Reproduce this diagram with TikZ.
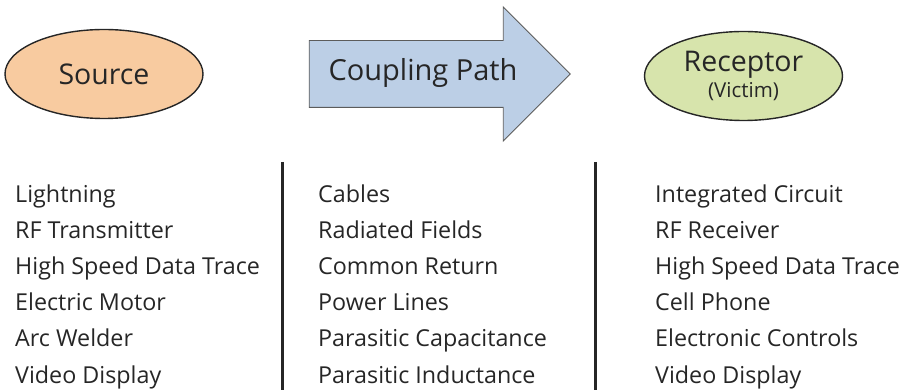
\documentclass[tikz,border=0pt]{standalone}
\usepackage{fontspec}
\setmainfont{Open Sans}
\usetikzlibrary{shapes.geometric,shapes.arrows,positioning}

\definecolor{srcfill}{RGB}{248,203,160}
\definecolor{recfill}{RGB}{215,228,172}
\definecolor{pathfill}{RGB}{188,207,230}
\definecolor{inkgray}{RGB}{38,38,38}

\begin{document}
\begin{tikzpicture}[
    x=1pt, y=-1pt,
    blob/.style={ellipse, draw=inkgray, line width=1.4pt, minimum width=198pt, minimum height=89pt, inner sep=0pt, text=inkgray},
    flowarrow/.style={single arrow, draw=inkgray!75, line width=0.9pt, fill=pathfill, text=inkgray, minimum height=261pt, single arrow head extend=33.5pt, text height=20pt, text depth=6pt, inner ysep=20pt, inner xsep=0pt},
    itemlist/.style={align=left, anchor=base west, inner sep=0pt, text=inkgray, font=\fontsize{23.3}{36.1}\selectfont},
    divider/.style={draw=inkgray, line width=3pt}
]
    \useasboundingbox (0,0) rectangle (903,390);

    \node[blob, fill=srcfill, font=\fontsize{28.5}{32}\selectfont] (source) at (104,74) {Source};
    \node[flowarrow, font=\fontsize{29}{32}\selectfont] (coupling) at (423,74) {Coupling Path};
    \node[blob, fill=recfill, align=center] (receptor) at (743.5,76)
        {{\fontsize{28.5}{30}\selectfont Receptor}\\[3pt]{\fontsize{20.5}{22}\selectfont (Victim)}};

    % lists: anchor is the baseline of the last line
    \node[itemlist] (srclist) at (15,383) {Lightning\\RF Transmitter\\High Speed Data Trace\\Electric Motor\\Arc Welder\\Video Display};
    \node[itemlist] (pathlist) at (318,383) {Cables\\Radiated Fields\\Common Return\\Power Lines\\Parasitic Capacitance\\Parasitic Inductance};
    \node[itemlist] (reclist) at (655,383) {Integrated Circuit\\RF Receiver\\High Speed Data Trace\\Cell Phone\\Electronic Controls\\Video Display};

    \coordinate (lineAtop) at (282,162);
    \coordinate (lineAbot) at (282,390);
    \coordinate (lineBtop) at (595,162);
    \coordinate (lineBbot) at (595,390);
    \draw[divider] (lineAtop) -- (lineAbot);
    \draw[divider] (lineBtop) -- (lineBbot);
\end{tikzpicture}
\end{document}
